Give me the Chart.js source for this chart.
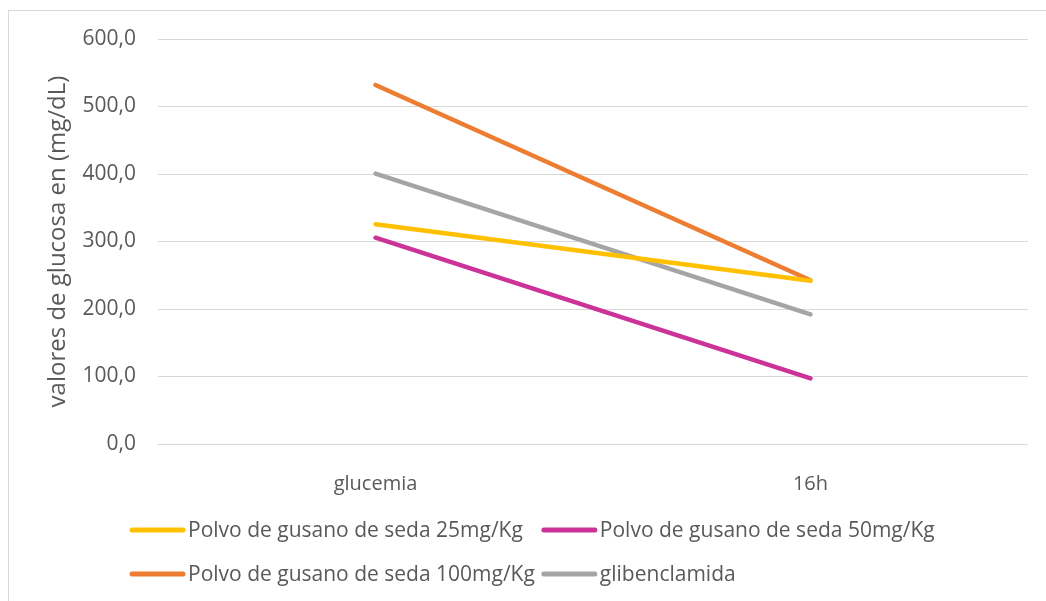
<!DOCTYPE html>
<html>
<head>
<meta charset="utf-8">
<script src="https://cdn.jsdelivr.net/npm/chart.js@4.4.1/dist/chart.umd.min.js"></script>
<style>
  html, body { margin: 0; padding: 0; background: #fff; overflow: hidden; }
  #wrap { width: 1046px; height: 601px; position: relative; }
</style>
</head>
<body>
<div id="wrap"><canvas id="glucoseChart"></canvas></div>
<script>
const categories = ["glucemia", "16h"];
const seriesNames = [
  "Polvo de gusano de seda 25mg/Kg",
  "Polvo de gusano de seda 50mg/Kg",
  "Polvo de gusano de seda 100mg/Kg",
  "glibenclamida",
];
const dose25 = [325.5, 242.0];
const dose50 = [305.6, 97.3];
const dose100 = [531.9, 242.5];
const glibenclamida = [400.5, 192.0];
const yTickValues = [0, 100, 200, 300, 400, 500, 600];
const yTitle = "valores de glucosa en (mg/dL)";

const seriesColors = ["#FFC000", "#CC3399", "#ED7D31", "#A5A5A5"];
const seriesValues = [dose25, dose50, dose100, glibenclamida];
const textColor = "#595959";
const fontFamily = "'Open Sans', Lato, sans-serif";
const fontSize = 20;
const legendSize = 21;
const titleSize = 24;

function formatComma(value) {
  return value.toFixed(1).replace(".", ",");
}

// frame around the chart, only left and top edges are visible
const framePlugin = {
  id: "frame",
  beforeDraw(chart) {
    const ctx = chart.ctx;
    ctx.save();
    ctx.fillStyle = "#ffffff";
    ctx.fillRect(0, 0, chart.width, chart.height);
    ctx.strokeStyle = "#d9d9d9";
    ctx.lineWidth = 1;
    ctx.strokeRect(8.5, 10.5, chart.width + 50, chart.height + 50);
    ctx.restore();
  },
};

// legend in two rows with aligned columns, like the original
const legendPlugin = {
  id: "gridLegend",
  afterDraw(chart) {
    const ctx = chart.ctx;
    const datasets = chart.data.datasets;
    ctx.save();
    ctx.font = `${legendSize}px ${fontFamily}`;
    ctx.textBaseline = "middle";
    ctx.textAlign = "left";
    const startX = 130;
    const lineLen = 53;
    const rowYs = [530, 574];
    const col1Width = Math.max(
      ctx.measureText(datasets[0].label).width,
      ctx.measureText(datasets[2].label).width
    );
    const colXs = [startX, startX + lineLen + 5 + col1Width + 7];
    datasets.forEach((ds, index) => {
      const x = colXs[index % 2];
      const y = rowYs[Math.floor(index / 2)];
      ctx.strokeStyle = ds.borderColor;
      ctx.lineWidth = 5;
      ctx.lineCap = "round";
      ctx.beginPath();
      ctx.moveTo(x + 2, y);
      ctx.lineTo(x + lineLen, y);
      ctx.stroke();
      ctx.fillStyle = textColor;
      ctx.fillText(ds.label, x + lineLen + 5, y + 1);
    });
    ctx.restore();
  },
};

const canvas = document.getElementById("glucoseChart");

new Chart(canvas, {
  type: "line",
  data: {
    labels: categories,
    datasets: seriesNames.map((name, index) => ({
      label: name,
      data: seriesValues[index],
      borderColor: seriesColors[index],
      backgroundColor: seriesColors[index],
      borderWidth: 4.5,
      borderCapStyle: "round",
      pointRadius: 0,
      tension: 0,
      fill: false,
    })),
  },
  options: {
    responsive: true,
    maintainAspectRatio: false,
    animation: false,
    layout: {
      padding: { top: 39, right: 18, bottom: 0, left: 0 },
    },
    plugins: {
      legend: { display: false },
      tooltip: { enabled: false },
    },
    scales: {
      x: {
        offset: true,
        grid: { display: false },
        border: { display: false },
        ticks: {
          color: textColor,
          font: { family: fontFamily, size: fontSize },
          padding: 20,
          maxRotation: 0,
        },
        afterFit(scale) {
          scale.height = 157;
        },
      },
      y: {
        min: 0,
        max: 600,
        afterBuildTicks(scale) {
          scale.ticks = yTickValues.map((value) => ({ value }));
        },
        grid: {
          color: "#d9d9d9",
          lineWidth: 1,
          drawTicks: false,
        },
        border: { display: false },
        ticks: {
          color: textColor,
          font: { family: fontFamily, size: legendSize },
          padding: 22,
          callback: (value) => formatComma(value),
        },
        title: {
          display: true,
          text: yTitle,
          color: textColor,
          font: { family: fontFamily, size: titleSize },
          padding: { top: 58 - (titleSize * 1.2) / 2, bottom: 0 },
        },
        afterFit(scale) {
          scale.width = 158;
        },
      },
    },
  },
  plugins: [framePlugin, legendPlugin],
});
</script>
</body>
</html>
